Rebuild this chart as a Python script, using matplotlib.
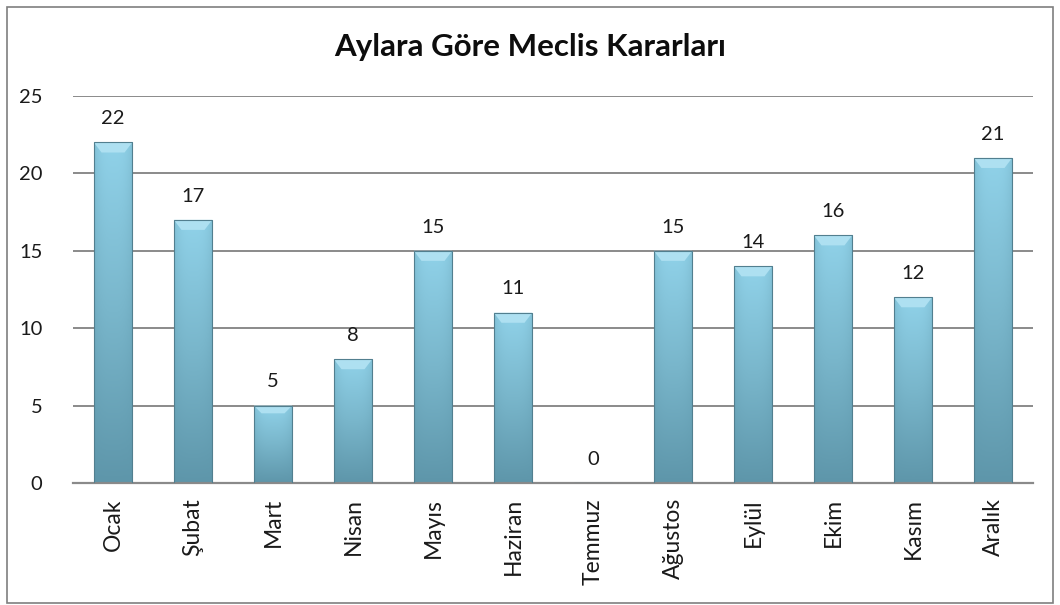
import matplotlib.pyplot as plt
import numpy as np
from matplotlib.colors import LinearSegmentedColormap
from matplotlib.patches import Rectangle

plt.rcParams["font.family"] = ["Lato", "DejaVu Sans"]

title = "Aylara Göre Meclis Kararları"
months = ["Ocak", "Şubat", "Mart", "Nisan", "Mayıs", "Haziran",
          "Temmuz", "Ağustos", "Eylül", "Ekim", "Kasım", "Aralık"]
counts = [22, 17, 5, 8, 15, 11, 0, 15, 14, 16, 12, 21]
yticks = [0, 5, 10, 15, 20, 25]

fig = plt.figure(figsize=(10.6, 6.05), dpi=100)
ax = fig.add_axes([0.0689, 0.2017, 0.9056, 0.6396])

x = np.arange(len(months))
width = 0.48
bars = ax.bar(x, counts, width=width, color="none", edgecolor="#527f8f",
              linewidth=0.8, zorder=3)

# vertical gradient (light top -> darker bottom) with side shading
cmap = LinearSegmentedColormap.from_list("bar", ["#5e96aa", "#79b6cb", "#90d2e9"])
for rect, v in zip(bars, counts):
    if v <= 0:
        continue
    x0, w = rect.get_x(), rect.get_width()
    yy = np.linspace(0, 1, 200)[:, None]
    xx = np.linspace(-1, 1, 40)[None, :]
    grad = yy * (1 - 0.3 * np.abs(xx) ** 3)
    im = ax.imshow(grad, extent=[x0, x0 + w, 0, v], origin="lower",
                   cmap=cmap, vmin=0, vmax=1, aspect="auto", zorder=2)
    im.set_clip_path(rect)
    # top bevel
    bev = min(0.65, v * 0.1)
    ax.fill([x0, x0 + w, x0 + w * 0.8, x0 + w * 0.2],
            [v, v, v - bev, v - bev], color="#aee0f1", lw=0, zorder=2.5)
    ax.annotate(str(v), (x0 + w / 2, v), xytext=(0, 11),
                textcoords="offset points", ha="center", va="bottom",
                fontsize=14.5, color="#1a1a1a")
ax.annotate("0", (months.index("Temmuz"), 0), xytext=(0, 11),
            textcoords="offset points", ha="center", va="bottom",
            fontsize=14.5, color="#1a1a1a")

ax.set_xlim(-0.5, len(months) - 0.5)
ax.set_ylim(0, 25)
ax.set_yticks(yticks)
ax.set_xticks(x)
ax.set_xticklabels(months, rotation=90, fontsize=16.5)
ax.tick_params(axis="y", length=0, pad=22, labelsize=14.5)
ax.tick_params(axis="x", length=0, pad=11)
for lab in ax.get_yticklabels() + ax.get_xticklabels():
    lab.set_color("#1a1a1a")
ax.grid(axis="y", color="#8a8a8a", linewidth=1.4, zorder=1)
ax.set_axisbelow(True)
for s in ("top", "right", "left"):
    ax.spines[s].set_visible(False)
ax.spines["bottom"].set_color("#8a8a8a")
ax.spines["bottom"].set_linewidth(1.6)

fig.text(0.5, 1 - 47 / 605, title, ha="center", va="center",
         fontsize=22.5, fontweight="bold", color="#0d0d0d")

fig.patches.append(Rectangle((7 / 1060, 2 / 605), 1046 / 1060, 596 / 605,
                             transform=fig.transFigure, fill=False,
                             edgecolor="#7f7f7f", linewidth=1.2))

fig.savefig("out.png", dpi=100)
